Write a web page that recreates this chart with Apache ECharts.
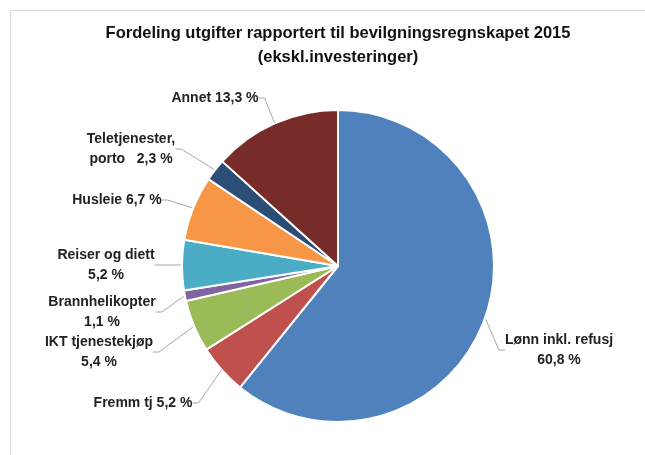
<!DOCTYPE html>
<html>
<head>
<meta charset="utf-8">
<script src="https://cdn.jsdelivr.net/npm/echarts@6/dist/echarts.min.js"></script>
<style>
   html, body { margin: 0; padding: 0; background: #fff; }
   #chart { width: 645px; height: 455px; }
</style>
</head>
<body>
<div id="chart"></div>
<script>
// data
var categories = ['Lønn inkl. refusj', 'Fremm tj', 'IKT tjenestekjøp', 'Brannhelikopter',
   'Reiser og diett', 'Husleie', 'Teletjenester,\nporto', 'Annet'];
var values = [60.8, 5.2, 5.4, 1.1, 5.2, 6.7, 2.3, 13.3];
// separator between name and value in the label
var labelSep = ['\n', ' ', '\n', '\n', '\n', ' ', '   ', ' '];

// style
var colors = ['#4f81bd', '#c0504d', '#9bbb59', '#8064a2', '#4bacc6', '#f79646', '#2c4d75', '#772c2a'];
var labelCenters = [[559, 350], [143, 403], [99, 352], [102, 312], [106, 265], [117, 200], [131, 149], [215, 98]];
var font = "'Liberation Sans', Arial, sans-serif";

var myChart = echarts.init(document.getElementById('chart'));
var option = {
   animation: false,
   color: colors,
   title: {
      text: 'Fordeling utgifter rapportert til bevilgningsregnskapet 2015\n(ekskl.investeringer)',
      left: 338,
      top: 21,
      padding: 0,
      textAlign: 'center',
      textStyle: {
         fontFamily: font,
         fontSize: 16.5,
         fontWeight: 'bold',
         lineHeight: 24,
         color: '#111'
      }
   },
   graphic: [{
      type: 'rect',
      shape: { x: 10.5, y: 10.5, width: 700, height: 500 },
      style: { fill: 'none', stroke: '#d9d9d9', lineWidth: 1 },
      silent: true
   }],
   series: [{
      type: 'pie',
      center: [338, 266],
      radius: 156,
      startAngle: 90,
      clockwise: true,
      itemStyle: { borderColor: '#fff', borderWidth: 2 },
      label: {
         show: true,
         position: 'outside',
         fontFamily: font,
         fontSize: 14,
         fontWeight: 'bold',
         lineHeight: 20,
         color: '#222',
         formatter: function (p) {
            return p.name + labelSep[p.dataIndex] + p.value.toFixed(1).replace('.', ',') + ' %';
         }
      },
      labelLine: {
         show: true,
         length: 10,
         length2: 6,
         lineStyle: { color: '#a6a6a6', width: 1 }
      },
      labelLayout: function (params) {
         var c = labelCenters[params.dataIndex];
         return { x: c[0], y: c[1], align: 'center', verticalAlign: 'middle' };
      },
      emphasis: { disabled: true },
      data: categories.map(function (name, i) {
         return { name: name, value: values[i] };
      })
   }]
};
myChart.setOption(option);
</script>
</body>
</html>
